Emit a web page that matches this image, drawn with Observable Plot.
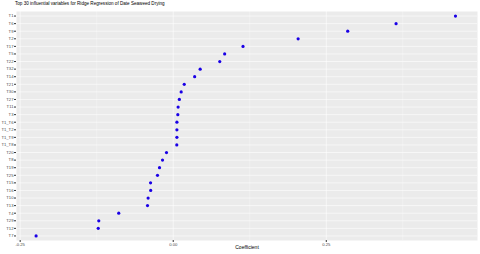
<!DOCTYPE html>
<html>
<head>
<meta charset="utf-8">
<script src="https://cdn.jsdelivr.net/npm/d3@7"></script>
<script src="https://cdn.jsdelivr.net/npm/@observablehq/plot@0.6"></script>
<style>
  html, body { margin: 0; padding: 0; background: #ffffff; }
  #wrap { position: relative; width: 480px; height: 254px; font-family: "Liberation Sans", Arial, sans-serif; }
  #title { position: absolute; left: 15px; top: 2px; font-size: 4.6px; color: #000; white-space: nowrap; line-height: 1; }
</style>
</head>
<body>
<div id="wrap"><div id="title">Top 30 influential variables for Ridge Regression of Date Seaweed Drying</div></div>
<script>
// Variables, top (largest) to bottom (smallest)
const variables = ["T1","T6","T9","T2","T17","T5","T22","T32","T14","T21",
  "T30","T27","T11","T3","T1_T6","T1_T2","T1_T9","T1_T8","T20","T8",
  "T19","T25","T15","T16","T10","T13","T4","T29","T12","T7"];
const coefficients = [0.461,0.364,0.285,0.204,0.114,0.084,0.076,0.044,0.035,0.018,
  0.013,0.010,0.008,0.0075,0.006,0.006,0.006,0.0058,-0.011,-0.0175,
  -0.0224,-0.0257,-0.037,-0.0368,-0.041,-0.042,-0.089,-0.1216,-0.1225,-0.224];
const majorTicks = [-0.25, 0, 0.25];
const minorTicks = [-0.125, 0.125, 0.375];

const data = variables.map((v, i) => ({variable: v, coef: coefficients[i]}));

const chart = Plot.plot({
  width: 480,
  height: 254,
  marginTop: 11,
  marginBottom: 14,
  marginLeft: 16,
  marginRight: 3,
  style: {fontFamily: "Liberation Sans, Arial, sans-serif", fontSize: "4.2px", background: "transparent", color: "#4D4D4D"},
  x: {domain: [-0.256, 0.497]},
  y: {type: "point", domain: variables, padding: 0.6, round: false},
  marks: [
    Plot.frame({fill: "#EBEBEB", stroke: null}),
    Plot.gridY({stroke: "#FFFFFF", strokeOpacity: 1, strokeWidth: 0.6}),
    Plot.gridX(minorTicks, {stroke: "#FFFFFF", strokeOpacity: 1, strokeWidth: 0.3}),
    Plot.gridX(majorTicks, {stroke: "#FFFFFF", strokeOpacity: 1, strokeWidth: 0.6}),
    Plot.axisX({ticks: majorTicks, tickFormat: d => d.toFixed(2), tickSize: 2, tickPadding: 1, label: null, stroke: "#333333", fill: "#4D4D4D"}),
    Plot.axisY({tickSize: 2, tickPadding: 1, label: null, stroke: "#333333", fill: "#4D4D4D"}),
    Plot.text(["Coefficient"], {frameAnchor: "bottom", dy: 8.5, fontSize: 5, fill: "#000000"}),
    Plot.dot(data, {x: "coef", y: "variable", r: 1.6, fill: "#1a00e6", stroke: null})
  ]
});
document.getElementById("wrap").appendChild(chart);
chart.style.position = "absolute";
chart.style.left = "0";
chart.style.top = "0";
</script>
</body>
</html>
